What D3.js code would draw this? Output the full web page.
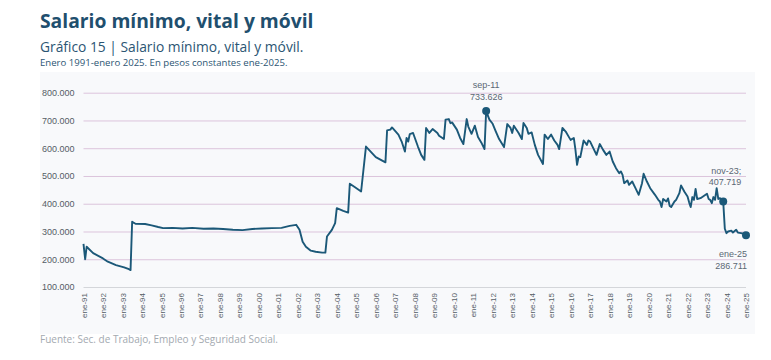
<!DOCTYPE html>
<html><head><meta charset="utf-8">
<script src="https://cdn.jsdelivr.net/npm/d3@7/dist/d3.min.js"></script>
<style>
html,body{margin:0;padding:0;background:#fff;}
svg{display:block;}
</style></head>
<body>
<svg id="chart" width="771" height="360"></svg>
<script>
// ---- DATA ----
const dates = ["1991-01","1991-02","1991-03","1991-07","1992-01","1992-04","1992-09","1993-02","1993-05","1993-06","1993-07","1993-09",
"1994-03","1994-07","1994-11","1995-02","1995-08","1996-02","1996-08","1997-03","1997-09","1998-03","1998-09","1999-03","1999-09",
"2000-03","2000-09","2001-03","2001-08","2001-12","2002-02","2002-04","2002-06","2002-09","2002-12","2003-04","2003-06","2003-07",
"2003-10","2003-12","2004-01","2004-05","2004-08","2004-09","2004-12","2005-04","2005-07","2006-01","2006-07","2006-08","2006-10",
"2006-11","2007-03","2007-05","2007-07","2007-08","2007-09","2007-10","2007-12","2008-03","2008-05","2008-07","2008-08","2008-10",
"2008-12","2009-03","2009-04","2009-07","2009-08","2009-10","2009-11","2009-12","2010-03","2010-05","2010-07","2010-09","2010-10",
"2010-12","2011-02","2011-04","2011-06","2011-08","2011-09","2011-11","2012-01","2012-03","2012-05","2012-08","2012-10","2012-12",
"2013-01","2013-02","2013-05","2013-07","2013-08","2013-10","2013-11","2014-01","2014-03","2014-05","2014-08","2014-09","2014-11",
"2015-01","2015-03","2015-05","2015-06","2015-08","2015-10","2015-12","2016-01","2016-03","2016-04","2016-05","2016-06","2016-07",
"2016-09","2016-11","2016-12","2017-01","2017-03","2017-05","2017-07","2017-09","2017-11","2018-01","2018-03","2018-05","2018-07",
"2018-08","2018-09","2018-10","2018-12","2019-01","2019-03","2019-05","2019-07","2019-09","2019-10","2019-12","2020-02","2020-05",
"2020-07","2020-08","2020-09","2020-10","2020-12","2021-01","2021-02","2021-03","2021-05","2021-06","2021-08","2021-09","2021-11",
"2022-01","2022-02","2022-03","2022-04","2022-05","2022-06","2022-07","2022-09","2022-11","2023-01","2023-02","2023-03","2023-04",
"2023-05","2023-06","2023-07","2023-08","2023-09","2023-10","2023-11","2023-12","2024-01","2024-02","2024-04","2024-05","2024-07",
"2024-08","2024-10","2024-12","2025-01"];
const salario = [255000,200000,245000,222000,203000,191000,179000,171000,164000,161000,335000,328000,
327000,322000,316000,312000,313000,311000,313000,310000,311000,309000,306000,305000,309000,
311000,312000,313000,320000,324000,306000,263000,245000,231000,227000,224000,224000,282000,
306000,330000,384000,374000,368000,472000,460000,444000,606000,568000,549000,664000,667000,
675000,649000,624000,588000,637000,624000,651000,655000,606000,576000,558000,673000,655000,
669000,655000,645000,633000,703000,705000,690000,693000,667000,637000,615000,705000,678000,
652000,681000,640000,621000,597000,733626,703000,688000,660000,633000,604000,687000,673000,
655000,681000,655000,633000,691000,673000,652000,657000,612000,576000,543000,649000,633000,
649000,628000,612000,597000,673000,660000,640000,630000,637000,594000,540000,570000,568000,
628000,612000,628000,624000,600000,576000,615000,594000,576000,588000,552000,528000,510000,
516000,504000,474000,484000,468000,480000,456000,432000,474000,508000,480000,456000,432000,
414000,408000,388000,417000,408000,419000,392000,388000,408000,414000,438000,466000,444000,
426000,404000,388000,424000,414000,453000,417000,420000,428000,436000,417000,414000,402000,
424000,414000,456000,417000,420000,412000,407719,310000,294000,300000,303000,296000,306000,
296000,294000,291000,286711];
const yTicks = [100000,200000,300000,400000,500000,600000,700000,800000];
const xTickLabels = ["ene-91","ene-92","ene-93","ene-94","ene-95","ene-96","ene-97","ene-98","ene-99","ene-00","ene-01","ene-02",
"ene-03","ene-04","ene-05","ene-06","ene-07","ene-08","ene-09","ene-10","ene-11","ene-12","ene-13","ene-14","ene-15","ene-16",
"ene-17","ene-18","ene-19","ene-20","ene-21","ene-22","ene-23","ene-24","ene-25"];
const highlightDates = ["2011-09","2023-11","2025-01"];
const highlightLabels = ["sep-11","nov-23;","ene-25"];
const titleText = "Salario mínimo, vital y móvil";
const subtitleText = "Gráfico 15 | Salario mínimo, vital y móvil.";
const noteText = "Enero 1991-enero 2025. En pesos constantes ene-2025.";
const sourceText = "Fuente: Sec. de Trabajo, Empleo y Seguridad Social.";

// ---- CHART ----
const svg = d3.select("#chart");
const parse = d3.timeParse("%Y-%m");
const parseLbl = d3.timeParse("%y");
const data = dates.map((d,i)=>({date:parse(d), value:salario[i]}));
const loc = d3.formatLocale({decimal:",", thousands:".", grouping:[3], currency:["$",""]});
const fmt = loc.format(",d");

const x = d3.scaleTime().domain([parse("1991-01"), parse("2025-01")]).range([83.5, 746]);
const y = d3.scaleLinear().domain([100000, 800000]).range([287, 92.7]);

const ink = "#1f4f6e", lineC = "#1b5878", grey = "#555d66";

svg.append("rect").attr("x",40).attr("y",72).attr("width",715).attr("height",262).attr("fill","#f8f9fb");

svg.append("text").attr("x",40).attr("y",28).text(titleText)
  .attr("font-family","'Open Sans', sans-serif").attr("font-weight",700).attr("font-size",19.3).attr("fill",ink);
svg.append("text").attr("x",40).attr("y",52).text(subtitleText)
  .attr("font-family","'Open Sans', sans-serif").attr("font-size",13.8).attr("fill","#2b5573");
svg.append("text").attr("x",40).attr("y",66).text(noteText)
  .attr("font-family","'Open Sans', sans-serif").attr("font-size",9.6).attr("fill","#2b5573");
svg.append("text").attr("x",40).attr("y",343).text(sourceText)
  .attr("font-family","'Open Sans', sans-serif").attr("font-size",10).attr("fill","#a3a9b0");

// gridlines + y labels
const yAxis = d3.axisLeft(y).tickValues(yTicks).tickFormat(fmt).tickSize(-(746-83.5)).tickPadding(9);
const gy = svg.append("g").attr("transform","translate(83.5,0)").call(yAxis);
gy.select(".domain").remove();
gy.selectAll(".tick line").attr("stroke", d=> d===100000 ? "#d4d6da" : "#dcc4dc").attr("stroke-width",1);
gy.selectAll(".tick text").attr("font-family","'Liberation Sans', Arial, sans-serif").attr("font-size",9).attr("fill",grey);

// x axis
const xTicks = xTickLabels.map(l => new Date(parseLbl(l.slice(4)).getFullYear(), 0, 1));
const xAxis = d3.axisBottom(x).tickValues(xTicks).tickFormat((d,i)=>xTickLabels[i]).tickSize(0).tickPadding(0);
const gx = svg.append("g").attr("transform","translate(0,287)").call(xAxis);
gx.select(".domain").remove();
gx.selectAll(".tick text").attr("font-family","'Liberation Sans', Arial, sans-serif").attr("font-size",8)
  .attr("fill",grey).attr("text-anchor","end").attr("transform","rotate(-90)")
  .attr("x",-6).attr("y",0).attr("dy","0.32em");

// line
const line = d3.line().x(d=>x(d.date)).y(d=>y(d.value));
svg.append("path").datum(data).attr("d",line).attr("fill","none").attr("stroke",lineC)
  .attr("stroke-width",1.9).attr("stroke-linejoin","round");

// highlight points
const hl = highlightDates.map((d,i)=>({date:parse(d), value:salario[dates.indexOf(d)], label:highlightLabels[i]}));
svg.selectAll("circle.hl").data(hl).join("circle").attr("class","hl")
  .attr("cx",d=>x(d.date)).attr("cy",d=>y(d.value)).attr("r",4).attr("fill",lineC);

const annoOff = [{dx:0, dy1:-23, dy2:-11, anchor:"middle"},{dx:18, dy1:-28, dy2:-16.5, anchor:"end"},{dx:1, dy1:22, dy2:34, anchor:"end"}];
hl.forEach((d,i)=>{
  const o = annoOff[i];
  const g = svg.append("g").attr("font-family","'Liberation Sans', Arial, sans-serif").attr("font-size",9).attr("fill","#5b6874").attr("text-anchor",o.anchor);
  g.append("text").attr("x",x(d.date)+o.dx).attr("y",y(d.value)+o.dy1).text(d.label);
  g.append("text").attr("x",x(d.date)+o.dx).attr("y",y(d.value)+o.dy2).text(fmt(d.value));
});
</script>
</body></html>
